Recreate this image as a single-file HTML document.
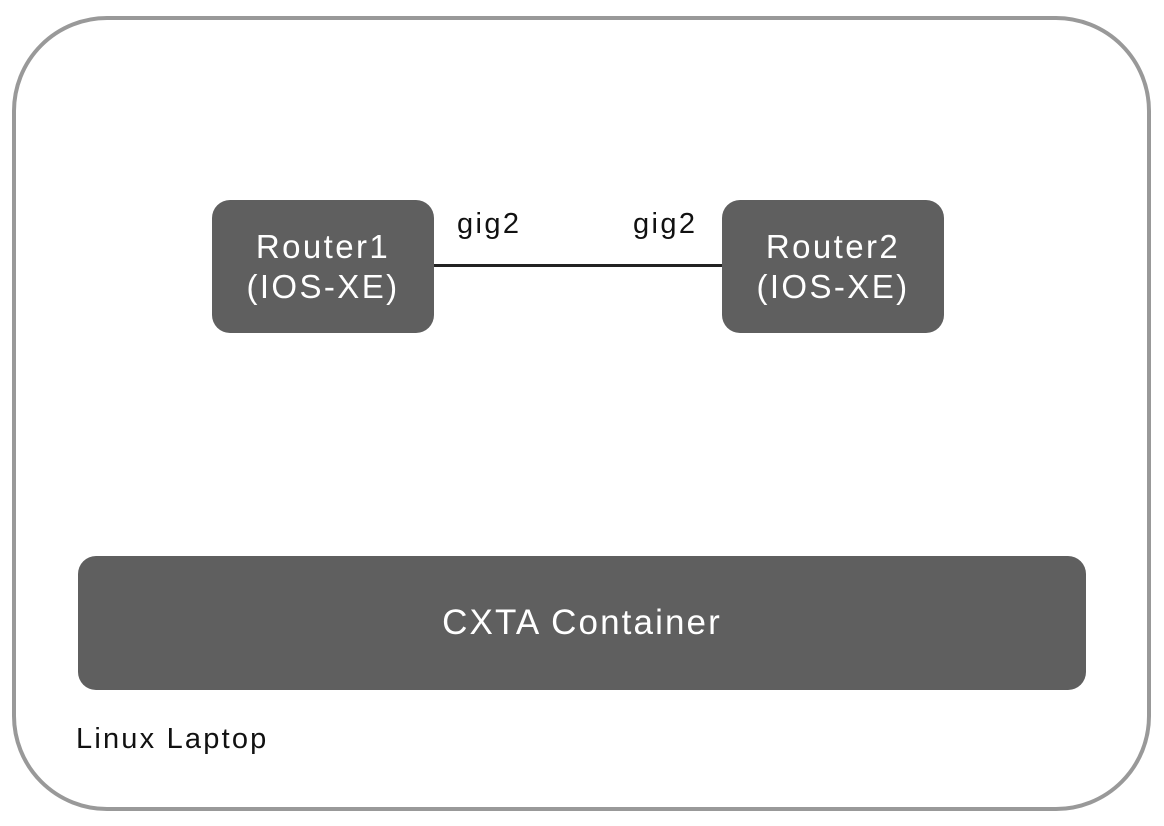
<!DOCTYPE html>
<html><head><style>
html,body{margin:0;padding:0;background:#fff;}
body{width:1164px;height:826px;position:relative;overflow:hidden;font-family:"Liberation Sans",sans-serif;}
.outer{position:absolute;left:12px;top:16px;width:1139px;height:795px;border:4px solid #999;border-radius:95px;box-sizing:border-box;}
.box{position:absolute;background:#5f5f5f;color:#fff;border-radius:18px;display:flex;align-items:center;justify-content:center;text-align:center;font-size:33px;line-height:40px;letter-spacing:2.4px;}
.lbl{position:absolute;font-size:29px;color:#111;letter-spacing:2.4px;}
</style></head><body>
<div class="outer"></div>
<div class="box" style="left:212px;top:200px;width:222px;height:133px;">Router1<br>(IOS-XE)</div>
<div class="box" style="left:722px;top:200px;width:222px;height:133px;">Router2<br>(IOS-XE)</div>
<div style="position:absolute;left:434px;top:264px;width:288px;height:3px;background:#222;"></div>
<div class="lbl" style="left:457px;top:208px;">gig2</div>
<div class="lbl" style="left:633px;top:208px;">gig2</div>
<div class="box" style="left:78px;top:556px;width:1008px;height:134px;font-size:35px;letter-spacing:2.1px;">CXTA Container</div>
<div class="lbl" style="left:76px;top:723px;letter-spacing:2.2px;">Linux Laptop</div>
</body></html>
